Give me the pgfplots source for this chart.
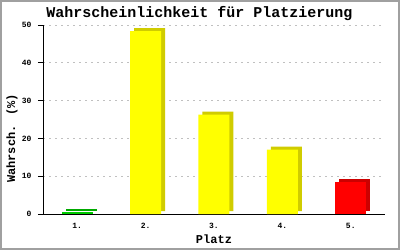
\documentclass[border=0pt]{standalone}
\usepackage{fontspec}
\setmainfont{Liberation Mono}
\usepackage{pgfplots}
\pgfplotsset{compat=1.18}
\definecolor{yfront}{RGB}{255,255,0}
\definecolor{yside}{RGB}{208,204,0}
\definecolor{gfront}{RGB}{0,204,0}
\definecolor{gside}{RGB}{0,170,0}
\definecolor{rfront}{RGB}{255,0,0}
\definecolor{rside}{RGB}{204,0,0}
\definecolor{framec}{RGB}{160,160,160}
\definecolor{gridc}{RGB}{192,192,192}
\begin{document}
\begin{tikzpicture}[x=1pt,y=1pt]
\useasboundingbox (0,0) rectangle (400,250);
\fill[white] (0,0) rectangle (400,250);
\begin{axis}[
  at={(43pt,36pt)}, anchor=south west,
  scale only axis, width=342pt, height=189pt,
  xmin=0.5, xmax=5.5, ymin=0, ymax=50,
  axis x line=bottom, axis y line=left,
  axis line style={-, line width=0.9pt, black},
  ytick={0,10,...,50}, tick align=outside, major tick length=5pt,
  ymajorgrids, grid style={gridc, dash pattern=on 2pt off 4pt, line width=0.8pt},
  xtick={1,...,5}, xticklabels={1.,2.,3.,4.,5.},
  x tick style={draw=none},
  y tick style={black, line width=0.8pt},
  ticklabel style={font=\bfseries\fontsize{8}{9}\selectfont},
  yticklabel style={xshift=-3pt},
  xticklabel style={yshift=-1pt},
  /pgf/number format/assume math mode=true,
  ybar, bar width=31pt, bar shift=0pt,
  title={Wahrscheinlichkeit für Platzierung},
  every axis title/.style={at={(axis description cs:0.4576,1.063)}, anchor=center, font=\bfseries\fontsize{15}{16}\selectfont},
  xlabel={Platz},
  every axis x label/.style={at={(axis description cs:0.5,-0.132)}, anchor=center, font=\bfseries\fontsize{12}{13}\selectfont},
  ylabel={Wahrsch. (\%)},
  every axis y label/.style={at={(axis description cs:-0.0906,0.40)}, anchor=center, rotate=90, font=\bfseries\fontsize{12}{13}\selectfont},
]
\addplot[draw=none, fill=yside, xshift=4pt, yshift=3pt] coordinates {(2,48.4) (3,26.3) (4,17.0)};
\addplot[draw=none, fill=gside, xshift=4pt, yshift=3pt] coordinates {(1,0.6)};
\addplot[draw=none, fill=rside, xshift=4pt, yshift=3pt] coordinates {(5,8.5)};
\addplot[draw=none, fill=yfront] coordinates {(2,48.4) (3,26.3) (4,17.0)};
\addplot[draw=none, fill=gfront] coordinates {(1,0.6)};
\addplot[draw=none, fill=rfront] coordinates {(5,8.5)};
\draw[line width=0.9pt, black] (rel axis cs:1,0) -- (rel axis cs:1,1);
\end{axis}
\draw[framec, line width=2pt] (1,1) rectangle (399,249);
\end{tikzpicture}
\end{document}
